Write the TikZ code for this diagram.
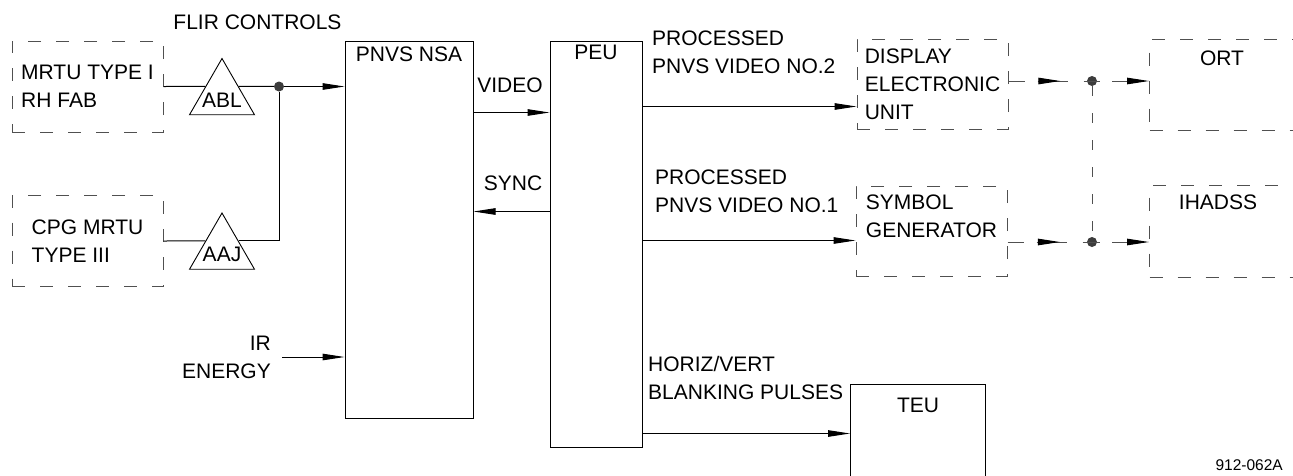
\documentclass[tikz,border=0pt]{standalone}
\usepackage{fontspec}
\setmainfont{Liberation Sans}
\usepackage{tikz}
\usetikzlibrary{arrows.meta, positioning, calc, shapes.geometric, decorations.markings}
\usepackage{xcolor}
\definecolor{dashgray}{RGB}{80,80,80}
\definecolor{dotgray}{RGB}{60,60,60}

\begin{document}
\begin{tikzpicture}[
  x=1pt, y=-1pt,
  font=\fontsize{21}{28}\selectfont,
  unit/.style={rectangle, draw=black, line width=1pt, inner sep=0pt},
  remote/.style={rectangle, draw=dashgray, line width=1pt, dash pattern=on 13pt off 15pt, inner sep=0pt, align=left},
  txt/.style={inner sep=0pt, align=left},
  amp/.style={regular polygon, regular polygon sides=3, draw=black, line width=0.9pt, minimum size=75pt, inner sep=0pt},
  arrow/.style={-{Triangle[length=22pt,width=6.5pt,color=black]}, line width=1pt},
  wire/.style={line width=1pt},
  dline/.style={line width=1pt, dashgray},
  tap/.style={circle, fill=dotgray, minimum size=10pt, inner sep=0pt},
  midarrow/.style={postaction={decorate}, decoration={markings, mark=at position #1 with {\arrow{Triangle[length=22pt,width=6.5pt,color=black]}}}},
]
  \useasboundingbox (0,0) rectangle (1293,475);
  \fill[white] (0,0) rectangle (1293,475);
  \clip (0,0) rectangle (1293,475);

  % sources and FLIR amplifiers
  \node[txt] (flir) at (257.5,22) {FLIR CONTROLS};
  \node[remote, minimum width=151pt, minimum height=91pt] (mrtu) at (87.5,86.5) {MRTU TYPE I\\RH FAB};
  \node[remote, minimum width=151pt, minimum height=91pt] (cpg) at (87.5,241) {CPG MRTU\\TYPE III};
  \node[amp] (abl) at (222,96) {};
  \node[txt] at ($(abl.center)+(0,4)$) {ABL};
  \node[amp] (aaj) at (222,250.5) {};
  \node[txt] at ($(aaj.center)+(0,4)$) {AAJ};
  \node[tap] (j0) at (279,86.5) {};

  % sensor and electronics
  \node[unit, minimum width=128pt, minimum height=377pt] (nsa) at (409,229.5) {};
  \node[txt, below=6pt of nsa.north] {PNVS NSA};
  \node[unit, minimum width=92pt, minimum height=406pt] (peu) at (596,244) {};
  \node[txt, below=4pt of peu.north] {PEU};
  \node[txt, align=right, anchor=east] (ir) at (271,357) {IR\\ENERGY};

  \draw[wire] (mrtu.east) -- (abl.side 1);
  \draw[wire] (abl.side 3) -- (j0);
  \draw[wire] (cpg.east) -- (aaj.side 1);
  \draw[wire] (aaj.side 3) -| (j0);
  \draw[arrow] (j0) -- (j0 -| nsa.west);
  \draw[arrow] ([xshift=11pt]ir.east) -- (ir.east -| nsa.west);

  \draw[arrow] ($(nsa.north east)+(0,72)$) coordinate (vid) -- (vid -| peu.west);
  \node[txt] (video) at (510,85) {VIDEO};
  \draw[arrow] ($(peu.north west)+(0,171)$) coordinate (syn) -- (syn -| nsa.east);
  \node[txt] (sync) at (513,183) {SYNC};

  % display side
  \node[remote, minimum width=151pt, minimum height=90pt] (deu) at (932.5,84) {DISPLAY\\ELECTRONIC\\UNIT};
  \node[remote, minimum width=151pt, minimum height=90pt] (sg) at (931.5,231) {};
  \node[txt] at ($(sg.center)+(0,-15)$) {SYMBOL\\GENERATOR};
  \node[remote, minimum width=200pt, minimum height=91pt, anchor=north west] (ort) at (1149,39) {};
  \node[txt] at (1222,58) {ORT};
  \node[remote, minimum width=200pt, minimum height=92pt, anchor=north west] (ihadss) at (1149,185) {};
  \node[txt] at (1218,202) {IHADSS};
  \node[unit, minimum width=135pt, minimum height=150pt, anchor=north west] (teu) at (850,384) {};
  \node[txt] at (918,405) {TEU};

  \draw[arrow] ($(peu.north east)+(0,66)$) coordinate (v2) -- (v2 -| deu.west);
  \node[txt, anchor=west] at (652,52.5) {PROCESSED\\PNVS VIDEO NO.2};
  \draw[arrow] ($(peu.north east)+(0,200)$) coordinate (v1) -- (v1 -| sg.west);
  \node[txt, anchor=west] at (655,191.5) {PROCESSED\\PNVS VIDEO NO.1};
  \draw[arrow] ($(peu.north east)+(0,393)$) coordinate (hv) -- (hv -| teu.west);
  \node[txt, anchor=west] at (648,377.5) {HORIZ/VERT\\BLANKING PULSES};

  % dashed distribution
  \node[tap] (j1) at (1092,81) {};
  \node[tap] (j2) at (1092,242) {};
  \draw[dline, dash pattern=on 10pt off 17pt] (j1) -- (j2);
  \draw[dline, dash pattern=on 16pt off 13pt on 30pt off 16pt on 20pt, midarrow=0.62] (j1 -| deu.east) -- (j1.center);
  \draw[dline, dash pattern=on 16pt off 13pt on 30pt off 16pt on 20pt, midarrow=0.62] (j2 -| sg.east) -- (j2.center);
  \draw[dline, arrow, dash pattern=on 8pt off 12pt on 60pt] (j1.center) -- (j1 -| ort.west);
  \draw[dline, arrow, dash pattern=on 8pt off 12pt on 60pt] (j2.center) -- (j2 -| ihadss.west);

  \node[txt, anchor=east, font=\fontsize{15.5}{18}\selectfont] at (1283,465) {912-062A};
\end{tikzpicture}
\end{document}
